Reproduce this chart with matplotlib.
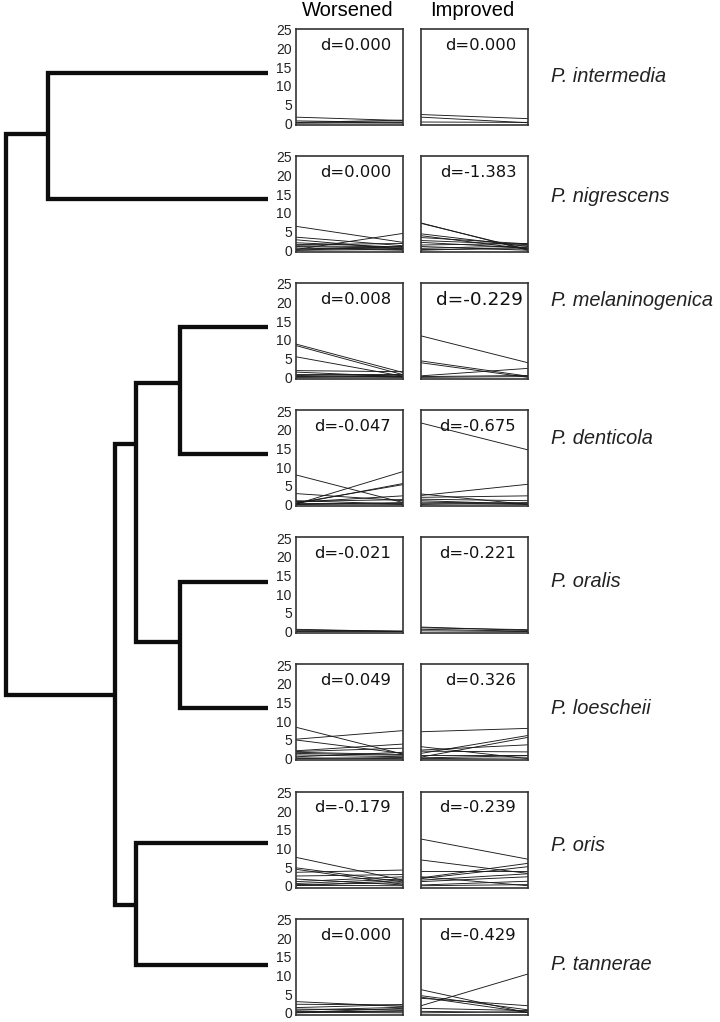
import matplotlib
matplotlib.use("Agg")
import matplotlib.pyplot as plt

plt.rcParams['font.family'] = ['Liberation Sans', 'DejaVu Sans']

# 物种名称
species = ["P. intermedia", "P. nigrescens", "P. melaninogenica", "P. denticola",
           "P. oralis", "P. loescheii", "P. oris", "P. tannerae"]

# 效应量 d
d_worsened = ["0.000", "0.000", "0.008", "-0.047", "-0.021", "0.049", "-0.179", "0.000"]
d_improved = ["0.000", "-1.383", "-0.229", "-0.675", "-0.221", "0.326", "-0.239", "-0.429"]

# 每条线: (前, 后)
worsened_lines = [
    [(1.6, 0.7), (0.6, 0.2), (0.2, 0.8), (0.0, 0.3), (0.1, 0.0)],
    [(6.4, 2.1), (3.5, 1.2), (2.8, 0.3), (2.0, 0.8), (1.5, 1.8), (1.0, 0.5),
     (0.6, 0.0), (0.2, 4.5), (0.0, 1.0), (0.3, 0.6), (0.0, 0.2), (1.2, 0.9)],
    [(8.9, 1.3), (8.5, 0.7), (5.5, 0.3), (1.8, 1.5), (1.4, 0.2), (1.0, 1.0),
     (0.5, 0.1), (0.2, 0.6), (0.0, 0.3), (0.1, 0.0)],
    [(7.9, 0.5), (2.9, 1.0), (0.1, 8.8), (0.2, 5.6), (0.4, 5.3), (0.6, 2.3),
     (0.8, 1.3), (0.0, 0.5), (0.3, 0.0), (1.0, 0.1), (0.0, 0.2)],
    [(0.6, 0.0), (0.4, 0.1), (0.2, 0.0), (0.0, 0.1)],
    [(8.4, 1.2), (5.2, 7.5), (5.0, 1.4), (2.1, 3.9), (1.9, 2.8), (1.4, 0.9),
     (1.0, 0.5), (0.5, 1.7), (0.2, 0.0), (0.0, 0.3), (1.7, 1.1)],
    [(7.6, 1.5), (4.8, 1.0), (4.4, 0.4), (3.6, 4.2), (2.6, 3.0), (1.1, 2.4),
     (0.6, 1.8), (0.3, 0.8), (0.0, 1.4), (1.8, 0.2), (0.1, 0.0)],
    [(3.0, 1.7), (2.3, 2.1), (1.4, 2.2), (1.0, 0.8), (0.7, 1.5), (0.4, 0.3),
     (0.1, 1.2), (0.0, 0.6), (0.2, 0.0)],
]
improved_lines = [
    [(2.3, 1.2), (1.6, 0.1), (0.3, 0.2)],
    [(7.3, 0.0), (7.2, 0.2), (4.4, 1.0), (3.9, 0.3), (3.4, 1.7), (2.6, 1.5),
     (2.1, 0.6), (1.4, 1.8), (1.0, 0.0), (0.5, 1.2), (0.2, 0.4), (0.0, 0.8)],
    [(11.1, 3.9), (4.4, 0.3), (3.9, 0.0), (0.4, 2.4), (0.2, 0.5), (0.0, 0.2)],
    [(21.8, 14.6), (2.8, 0.0), (2.4, 5.4), (1.9, 2.3), (1.4, 1.0), (1.0, 0.1),
     (0.6, 0.3), (0.2, 0.0), (0.0, 0.5)],
    [(1.2, 0.3), (1.0, 0.5), (0.6, 0.1), (0.2, 0.0)],
    [(7.2, 8.1), (3.2, 0.0), (1.4, 6.2), (0.4, 5.7), (2.3, 3.7), (2.0, 1.8),
     (1.0, 1.0), (0.2, 0.8), (0.0, 0.2)],
    [(12.5, 7.1), (6.9, 3.3), (3.9, 3.9), (2.1, 6.0), (1.9, 5.1), (1.5, 3.2),
     (1.1, 2.4), (0.2, 1.2), (0.0, 0.3), (2.4, 0.0)],
    [(6.2, 0.0), (4.6, 0.8), (4.2, 0.1), (1.9, 10.4), (3.9, 1.9), (1.2, 0.6),
     (0.4, 0.1), (0.0, 0.3)],
]

time_points = [0, 1]
y_ticks = [0, 5, 10, 15, 20, 25]

W, H = 720, 1022
fig = plt.figure(figsize=(W / 100, H / 100), dpi=100)

# 进化树 (像素坐标)
tree_ax = fig.add_axes([0, 0, 1, 1])
tree_ax.set_xlim(0, W)
tree_ax.set_ylim(H, 0)
tree_ax.axis("off")

leaf_y = [73, 199, 327, 454, 582, 708, 843, 965]
leaf_end = 268


def leaf(i):
    return {"x": leaf_end, "y": leaf_y[i]}


def clade(x, a, b, join):
    return {"x": x, "y": join, "kids": (a, b)}


tree = clade(6, clade(48, leaf(0), leaf(1), 134),
             clade(115,
                   clade(136,
                         clade(180, leaf(2), leaf(3), 383),
                         clade(180, leaf(4), leaf(5), 642), 444),
                   clade(136, leaf(6), leaf(7), 905), 695), None)


def draw_clade(node):
    a, b = node["kids"]
    xs = [a["x"], node["x"], node["x"], b["x"]]
    ys = [a["y"], a["y"], b["y"], b["y"]]
    tree_ax.plot(xs, ys, color="#0d0d0d", lw=3.1, solid_joinstyle="miter",
                 solid_capstyle="butt")
    for k in (a, b):
        if "kids" in k:
            draw_clade(k)


draw_clade(tree)

# 小图
panel_w, panel_h = 107, 96
for i in range(len(species)):
    top = 29 + i * 127.1
    for j, (lines, d) in enumerate([(worsened_lines[i], d_worsened[i]),
                                    (improved_lines[i], d_improved[i])]):
        left = 296 if j == 0 else 421
        ax = fig.add_axes([left / W, 1 - (top + panel_h) / H, panel_w / W, panel_h / H])
        for a, b in lines:
            ax.plot(time_points, [a, b], color="#1a1a1a", lw=0.65)
        ax.set_xlim(0, 1)
        ax.set_ylim(-0.5, 25.2)
        ax.set_xticks([])
        ax.set_yticks(y_ticks)
        ax.tick_params(axis="y", length=0, pad=3, labelsize=10, labelleft=(j == 0),
                       labelcolor="#222222")
        for s in ax.spines.values():
            s.set_linewidth(1.2)
            s.set_color("#333333")
        fs = 13.3 if (i == 2 and j == 1) else 11.8
        ax.text(0.89 if fs < 13 else 0.95, 0.83, "d=" + d, transform=ax.transAxes,
                ha="right", va="center", fontsize=fs, family="DejaVu Sans",
                color="#111111")

# 标题
fig.text(348 / W, 1 - 11 / H, "Worsened", ha="center", va="center", fontsize=14.5)
fig.text(472 / W, 1 - 11 / H, "Improved", ha="center", va="center", fontsize=14.5)

# 物种标签
label_y = [77, 197, 300, 438, 581, 708, 845, 964]
for name, y in zip(species, label_y):
    fig.text(551 / W, 1 - y / H, name, ha="left", va="center", fontsize=14.4,
             style="italic", color="#222222")

fig.savefig("out.png", dpi=100, facecolor="white")
